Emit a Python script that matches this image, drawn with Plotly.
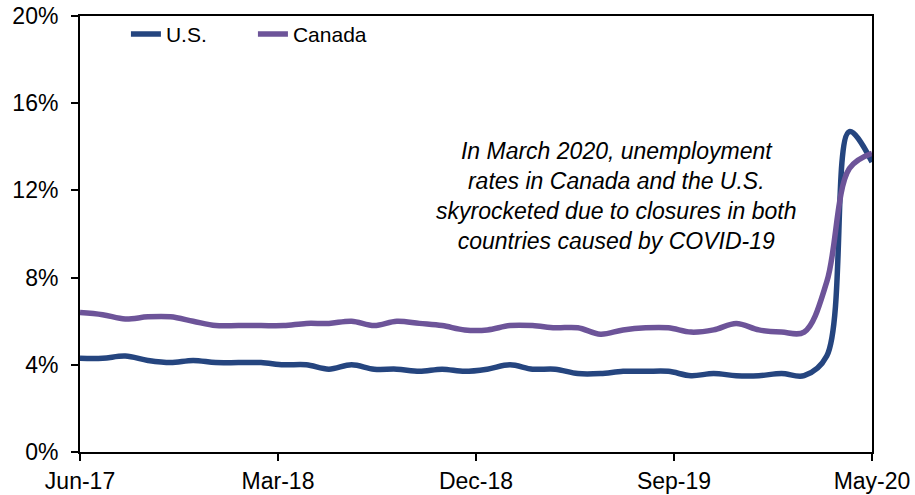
import plotly.graph_objects as go

months = ["Jun-17","Jul-17","Aug-17","Sep-17","Oct-17","Nov-17","Dec-17",
          "Jan-18","Feb-18","Mar-18","Apr-18","May-18","Jun-18","Jul-18","Aug-18","Sep-18","Oct-18","Nov-18","Dec-18",
          "Jan-19","Feb-19","Mar-19","Apr-19","May-19","Jun-19","Jul-19","Aug-19","Sep-19","Oct-19","Nov-19","Dec-19",
          "Jan-20","Feb-20","Mar-20","Apr-20","May-20"]
us = [4.3, 4.3, 4.4, 4.2, 4.1, 4.2, 4.1, 4.1, 4.1, 4.0, 4.0, 3.8, 4.0, 3.8, 3.8, 3.7, 3.8, 3.7, 3.8,
      4.0, 3.8, 3.8, 3.6, 3.6, 3.7, 3.7, 3.7, 3.5, 3.6, 3.5, 3.5, 3.6, 3.5, 4.4, 14.7, 13.3]
canada = [6.4, 6.3, 6.1, 6.2, 6.2, 6.0, 5.8, 5.8, 5.8, 5.8, 5.9, 5.9, 6.0, 5.8, 6.0, 5.9, 5.8, 5.6, 5.6,
          5.8, 5.8, 5.7, 5.7, 5.4, 5.6, 5.7, 5.7, 5.5, 5.6, 5.9, 5.6, 5.5, 5.5, 7.8, 13.0, 13.7]
tick_labels = ["Jun-17", "Mar-18", "Dec-18", "Sep-19", "May-20"]
y_ticks = [0, 4, 8, 12, 16, 20]
note = ("In March 2020, unemployment<br>rates in Canada and the U.S.<br>"
        "skyrocketed due to closures in both<br>countries caused by COVID-19")

x = list(range(len(months)))
n = len(months) - 1
tick_pos = [n * i / (len(tick_labels) - 1) for i in range(len(tick_labels))]

FONT = "Arial, Liberation Sans, sans-serif"

fig = go.Figure()
fig.add_trace(go.Scatter(x=x, y=us, name="U.S.", mode="lines",
                         line=dict(color="#25457f", width=5.5, shape="spline", smoothing=1.0),
                         customdata=months, hovertemplate="%{customdata}: %{y:.1f}%<extra>U.S.</extra>"))
fig.add_trace(go.Scatter(x=x, y=canada, name="Canada", mode="lines",
                         line=dict(color="#6d5499", width=5.5, shape="spline", smoothing=1.0),
                         customdata=months, hovertemplate="%{customdata}: %{y:.1f}%<extra>Canada</extra>"))

fig.add_annotation(x=23.7, y=11.75, xref="x", yref="y", text=note, showarrow=False,
                   font=dict(family=FONT, size=23, color="black", style="italic"),
                   align="center")

fig.update_layout(
    width=915, height=495,
    margin=dict(l=80, r=43, t=16, b=43),
    paper_bgcolor="white", plot_bgcolor="white",
    font=dict(family=FONT, color="black", size=21),
    showlegend=True,
    legend=dict(orientation="h", x=0.058, y=1.005, xanchor="left", yanchor="top",
                font=dict(size=21), bgcolor="rgba(0,0,0,0)", itemwidth=30,
                entrywidth=82, entrywidthmode="pixels"),
)
fig.update_xaxes(range=[0, n], tickmode="array", tickvals=tick_pos, ticktext=tick_labels,
                 showgrid=False, zeroline=False, showline=True, linecolor="black", linewidth=2,
                 mirror=True, ticks="outside", ticklen=7, tickwidth=2, tickcolor="black",
                 tickfont=dict(size=23), automargin=False)
fig.update_yaxes(range=[0, 20], tickmode="array", tickvals=y_ticks,
                 ticktext=[f"{v}%" for v in y_ticks],
                 showgrid=False, zeroline=False, showline=True, linecolor="black", linewidth=2,
                 mirror=True, ticks="outside", ticklen=7, tickwidth=2, tickcolor="black",
                 tickfont=dict(size=23), ticklabelstandoff=8, automargin=False)

fig.write_html("out.html")
